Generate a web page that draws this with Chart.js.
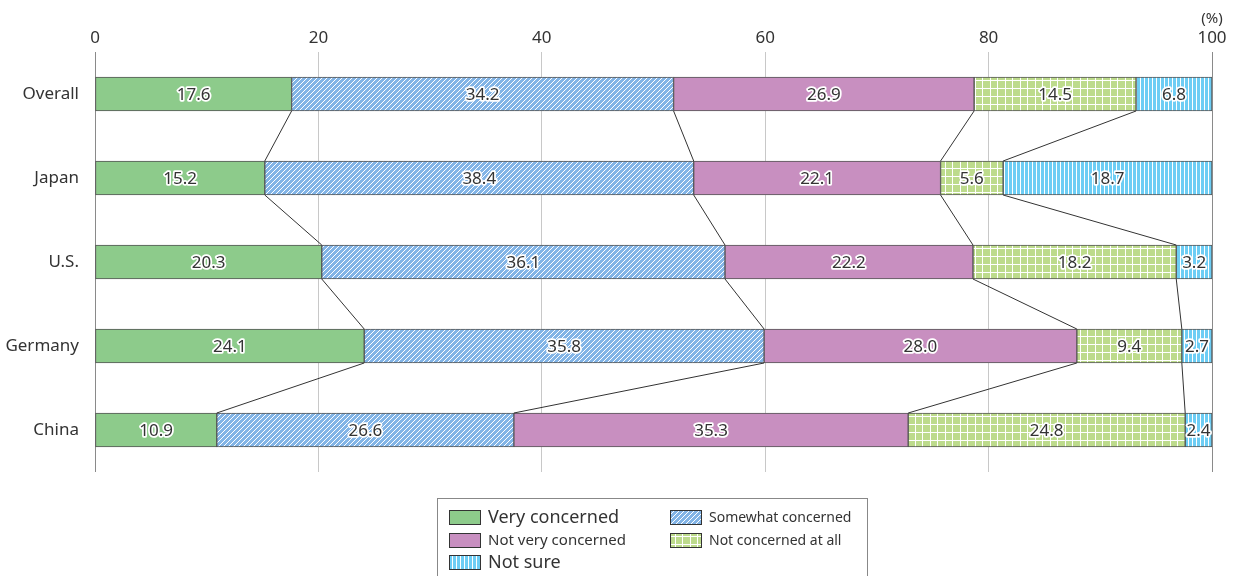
<!doctype html>
<html lang="en">
  <head>
    <meta charset="utf-8">
    <title>Concern survey</title>
    <style>
      body { margin: 0; background: #fff; }
      #wrap { position: relative; width: 1241px; height: 576px; }
    </style>
  </head>
  <body>
    <div id="wrap">
      <canvas id="myChart"></canvas>
    </div>
    <script src="https://cdn.jsdelivr.net/npm/chart.js"></script>
    <script>
    // data
    const countries = ['Overall', 'Japan', 'U.S.', 'Germany', 'China'];
    const seriesNames = ['Very concerned', 'Somewhat concerned', 'Not very concerned', 'Not concerned at all', 'Not sure'];
    const veryConcerned = [17.6, 15.2, 20.3, 24.1, 10.9];
    const somewhatConcerned = [34.2, 38.4, 36.1, 35.8, 26.6];
    const notVeryConcerned = [26.9, 22.1, 22.2, 28.0, 35.3];
    const notAtAll = [14.5, 5.6, 18.2, 9.4, 24.8];
    const notSure = [6.8, 18.7, 3.2, 2.7, 2.4];
    const xTicks = [0, 20, 40, 60, 80, 100];

    const FONT = '"Noto Sans", "Open Sans", sans-serif';
    const TEXT = '#333';

    // fill patterns
    const tmp = document.createElement('canvas').getContext('2d');
    function pat(w, h, bg, draw) {
        const c = document.createElement('canvas');
        c.width = w; c.height = h;
        const g = c.getContext('2d');
        g.fillStyle = bg;
        g.fillRect(0, 0, w, h);
        g.fillStyle = '#fff';
        draw(g);
        return tmp.createPattern(c, 'repeat');
    }
    const diagPat = pat(5, 5, '#82b4e6', g => {
        for (let i = 0; i < 5; i++) {
            g.fillRect(i, 4 - i, 1, 1);
        }
    });
    const gridPat = pat(15, 8, '#bddb8c', g => {
        g.fillRect(0, 0, 15, 1);
        g.fillRect(0, 0, 1, 8);
        g.fillRect(7, 0, 1, 8);
    });
    const vertPat = pat(4, 4, '#6dcdf4', g => {
        g.fillRect(0, 0, 1, 4);
    });

    const fills = ['#8dcb8b', diagPat, '#c88fc0', gridPat, vertPat];
    const values = [veryConcerned, somewhatConcerned, notVeryConcerned, notAtAll, notSure];

    const datasets = seriesNames.map((name, k) => ({
        label: name,
        data: values[k],
        backgroundColor: fills[k],
        borderColor: '#555',
        borderWidth: 1,
        borderSkipped: false,
        barThickness: 34
    }));

    // lines joining the segment edges of neighbouring bars
    const connectors = {
        id: 'connectors',
        afterDatasetsDraw(chart) {
            const ctx = chart.ctx;
            ctx.save();
            ctx.strokeStyle = '#333';
            ctx.lineWidth = 1;
            for (let k = 0; k < 4; k++) {
                const els = chart.getDatasetMeta(k).data;
                for (let i = 0; i < els.length - 1; i++) {
                    const a = els[i], b = els[i + 1];
                    ctx.beginPath();
                    ctx.moveTo(a.x, a.y + a.height / 2);
                    ctx.lineTo(b.x, b.y - b.height / 2);
                    ctx.stroke();
                }
            }
            ctx.restore();
        }
    };

    // value labels with white halo
    const valueLabels = {
        id: 'valueLabels',
        afterDatasetsDraw(chart) {
            const ctx = chart.ctx;
            ctx.save();
            ctx.font = '17px ' + FONT;
            ctx.textAlign = 'center';
            ctx.textBaseline = 'middle';
            ctx.lineJoin = 'round';
            chart.data.datasets.forEach((ds, k) => {
                chart.getDatasetMeta(k).data.forEach((el, i) => {
                    const txt = ds.data[i].toFixed(1);
                    const x = (el.x + el.base) / 2;
                    ctx.strokeStyle = '#fff';
                    ctx.lineWidth = 3.5;
                    ctx.strokeText(txt, x, el.y + 1);
                    ctx.fillStyle = TEXT;
                    ctx.fillText(txt, x, el.y + 1);
                });
            });
            // unit label above the last tick
            const xs = chart.scales.x;
            ctx.font = '15px ' + FONT;
            ctx.fillStyle = TEXT;
            ctx.fillText('(%)', xs.getPixelForValue(100), 19);
            ctx.restore();
        }
    };

    // boxed legend under the plot
    const boxLegend = {
        id: 'boxLegend',
        afterDraw(chart) {
            const ctx = chart.ctx;
            ctx.save();
            ctx.strokeStyle = '#888';
            ctx.lineWidth = 1;
            ctx.strokeRect(437.5, 498.5, 430, 90);
            const items = [
                { k: 0, x: 449, y: 510, size: 18 },
                { k: 1, x: 670, y: 510, size: 14 },
                { k: 2, x: 449, y: 533, size: 15 },
                { k: 3, x: 670, y: 533, size: 14 },
                { k: 4, x: 449, y: 555, size: 18 }
            ];
            items.forEach(it => {
                ctx.fillStyle = fills[it.k];
                ctx.fillRect(it.x, it.y, 32, 15);
                ctx.strokeStyle = '#333';
                ctx.strokeRect(it.x + 0.5, it.y + 0.5, 31, 14);
                ctx.fillStyle = TEXT;
                ctx.font = it.size + 'px ' + FONT;
                ctx.textAlign = 'left';
                ctx.textBaseline = 'middle';
                ctx.fillText(seriesNames[it.k], it.x + 39, it.y + 8);
            });
            ctx.restore();
        }
    };

    new Chart(document.getElementById('myChart'), {
        type: 'bar',
        data: { labels: countries, datasets: datasets },
        options: {
            indexAxis: 'y',
            responsive: true,
            maintainAspectRatio: false,
            animation: false,
            layout: { padding: { left: 0, right: 29, top: 0, bottom: 104 } },
            plugins: {
                legend: { display: false },
                tooltip: { enabled: false }
            },
            scales: {
                x: {
                    position: 'top',
                    stacked: true,
                    min: 0,
                    max: 100,
                    afterBuildTicks: s => { s.ticks = xTicks.map(v => ({ value: v })); },
                    afterFit: s => { s.height = 52; },
                    border: { display: false },
                    grid: {
                        drawTicks: false,
                        color: c => (c.tick && (c.tick.value === 0 || c.tick.value === 100)) ? '#8a8a8a' : '#c8c8c8'
                    },
                    ticks: {
                        padding: 4,
                        color: TEXT,
                        font: { family: FONT, size: 17 }
                    }
                },
                y: {
                    stacked: true,
                    afterFit: s => { s.width = 95; },
                    border: { display: false },
                    grid: { display: false },
                    ticks: {
                        padding: 8,
                        color: TEXT,
                        font: { family: FONT, size: 17 }
                    }
                }
            }
        },
        plugins: [connectors, valueLabels, boxLegend]
    });
    </script>
  </body>
</html>
